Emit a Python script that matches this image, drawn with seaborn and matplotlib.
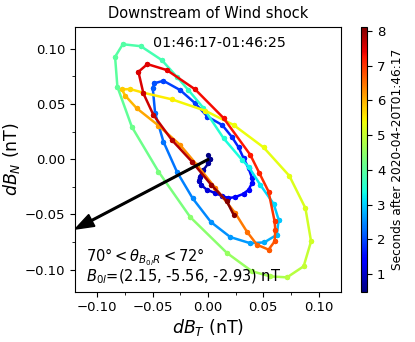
import numpy as np
import pandas as pd
import matplotlib
matplotlib.use("Agg")
import matplotlib.pyplot as plt
import seaborn as sns
from matplotlib.colors import Normalize
from matplotlib.cm import ScalarMappable
from matplotlib.ticker import AutoMinorLocator

# =========================
# DATA
# =========================
dBT = [0.0005, 0.0021, 0.0005, -0.0040, -0.0076, -0.0085, -0.0063, -0.0009, 0.0066, 0.0127,
       0.0186, 0.0247, 0.0322, 0.0367, 0.0398, 0.0398, 0.0367, 0.0322, 0.0277, 0.0217,
       0.0129, -0.0004, -0.0115, -0.0251, -0.0402, -0.0486, -0.0498, -0.0477, -0.0402, -0.0281,
       -0.0138, 0.0027, 0.0202, 0.0383, 0.0510, 0.0623, 0.0639, 0.0594, 0.0473, 0.0367,
       0.0308, 0.0141, -0.0040, -0.0176, -0.0281, -0.0416, -0.0606, -0.0769, -0.0839, -0.0818,
       -0.0688, -0.0447, -0.0160, 0.0172, 0.0398, 0.0564, 0.0715, 0.0865, 0.0932, 0.0881,
       0.0736, 0.0503, 0.0232, -0.0024, -0.0326, -0.0583, -0.0703, -0.0778,
       -0.0747, -0.0643, -0.0447, -0.0251, -0.0100, 0.0066, 0.0247, 0.0353, 0.0443, 0.0548,
       0.0603, 0.0609, 0.0603, 0.0548, 0.0464, 0.0383, 0.0141,
       -0.0115, -0.0371, -0.0547, -0.0628, -0.0583, -0.0492, -0.0326, -0.0145, 0.0030, 0.0172,
       0.0232]
dBN = [0.0039, 0.0000, -0.0036, -0.0097, -0.0157, -0.0193, -0.0232, -0.0277, -0.0307, -0.0332,
       -0.0352, -0.0343, -0.0313, -0.0277, -0.0217, -0.0169, -0.0081, 0.0009, 0.0108, 0.0201,
       0.0310, 0.0385, 0.0506, 0.0626, 0.0710, 0.0687, 0.0641, 0.0416, 0.0159, -0.0112,
       -0.0354, -0.0569, -0.0705, -0.0761, -0.0753, -0.0684, -0.0548, -0.0404, -0.0232, -0.0067,
       -0.0006, 0.0190, 0.0463, 0.0626, 0.0746, 0.0897, 0.1023, 0.1041, 0.0927, 0.0656,
       0.0294, -0.0112, -0.0524, -0.0849, -0.1015, -0.1061, -0.1070, -0.0970, -0.0744, -0.0443,
       -0.0151, 0.0107, 0.0310, 0.0439, 0.0542, 0.0602, 0.0635, 0.0632,
       0.0575, 0.0461, 0.0305, 0.0129, -0.0051, -0.0259, -0.0488, -0.0657, -0.0774, -0.0819,
       -0.0744, -0.0639, -0.0564, -0.0293, -0.0124, 0.0039, 0.0373,
       0.0632, 0.0807, 0.0861, 0.0791, 0.0596, 0.0400, 0.0174, -0.0022, -0.0232, -0.0383,
       -0.0503]
# seconds after 01:46:17
secs = [0.49, 0.57, 0.65, 0.73, 0.81, 0.89, 0.97, 1.05, 1.13, 1.19,
        1.25, 1.30, 1.35, 1.40, 1.45, 1.51, 1.57, 1.63, 1.68, 1.74,
        1.80, 1.84, 1.88, 1.92, 1.96, 2.00, 2.10, 2.20, 2.30, 2.37,
        2.43, 2.50, 2.57, 2.63, 2.70, 2.80, 2.90, 3.00, 3.12, 3.23,
        3.35, 3.44, 3.53, 3.61, 3.70, 3.77, 3.83, 3.90, 3.97, 4.03,
        4.10, 4.23, 4.37, 4.50, 4.60, 4.70, 4.80, 4.92, 5.05, 5.13,
        5.22, 5.30, 5.35, 5.40, 5.45, 5.55, 5.65, 5.75,
        5.88, 6.02, 6.15, 6.21, 6.28, 6.34, 6.40, 6.48, 6.57, 6.65,
        6.75, 6.85, 6.95, 7.03, 7.12, 7.20, 7.29,
        7.38, 7.41, 7.45, 7.48, 7.55, 7.63, 7.70, 7.81, 7.91, 8.02,
        8.12]

B0l = (2.15, -5.56, -2.93)
arrow_tail = (0.0006, 0.0)
arrow_tip = (-0.120, -0.0633)

# =========================
# PLOT
# =========================
sns.set_style("ticks")
plt.rcParams["font.family"] = ["DejaVu Sans"]
plt.rcParams["mathtext.fontset"] = "dejavusans"
for k in ["text.color", "axes.labelcolor", "xtick.color", "ytick.color", "axes.edgecolor"]:
    plt.rcParams[k] = "black"

fig = plt.figure(figsize=(4.15, 3.42), dpi=100)
ax = fig.add_axes([0.181, 0.147, 0.640, 0.775])
cax = fig.add_axes([0.869, 0.147, 0.016, 0.775])

jet = plt.get_cmap("jet")
norm = Normalize(vmin=min(secs), vmax=max(secs))

# one short line per sample pair, coloured by time
rows = []
for i in range(len(secs) - 1):
    tm = 0.5 * (secs[i] + secs[i + 1])
    rows.append((i, tm, dBT[i], dBN[i]))
    rows.append((i, tm, dBT[i + 1], dBN[i + 1]))
df = pd.DataFrame(rows, columns=["seg", "tmid", "dBT", "dBN"])

sns.lineplot(data=df, x="dBT", y="dBN", hue="tmid", units="seg",
             estimator=None, sort=False, palette=jet, hue_norm=norm,
             marker="o", markersize=3.8, markeredgewidth=0,
             linewidth=1.8, legend=False, ax=ax)

dx = arrow_tip[0] - arrow_tail[0]
dy = arrow_tip[1] - arrow_tail[1]
ax.arrow(arrow_tail[0], arrow_tail[1], dx, dy, width=0.0015,
         head_width=0.012, head_length=0.017, length_includes_head=True,
         color="k", zorder=10)

ax.text(0.0106, 0.105, "01:46:17-01:46:25", ha="center", va="center", fontsize=10.3)
ax.text(-0.110, -0.0925, r"$70° < \theta_{B_{0l}R} < 72°$", fontsize=10.5)
ax.text(-0.110, -0.1105, r"$B_{0l}$=(%.2f, %.2f, %.2f) nT" % B0l, fontsize=10.5)

ax.set_xlim(-0.12, 0.12)
ax.set_ylim(-0.12, 0.12)
ax.set_xticks([-0.10, -0.05, 0.00, 0.05, 0.10])
ax.set_yticks([-0.10, -0.05, 0.00, 0.05, 0.10])
ax.xaxis.set_minor_locator(AutoMinorLocator(2))
ax.yaxis.set_minor_locator(AutoMinorLocator(2))
ax.tick_params(labelsize=9.5)
ax.set_title("Downstream of Wind shock", fontsize=10.5)
ax.set_xlabel(r"$dB_T$ (nT)", fontsize=12.5, labelpad=2)
ax.set_ylabel(r"$dB_N$ (nT)", fontsize=12.5, labelpad=2)

cb = fig.colorbar(ScalarMappable(norm=norm, cmap=jet), cax=cax)
cb.set_ticks([1, 2, 3, 4, 5, 6, 7, 8])
cb.ax.tick_params(labelsize=9.5)
cb.set_label("Seconds after 2020-04-20T01:46:17", fontsize=8.8)

fig.savefig("out.png", dpi=100)
